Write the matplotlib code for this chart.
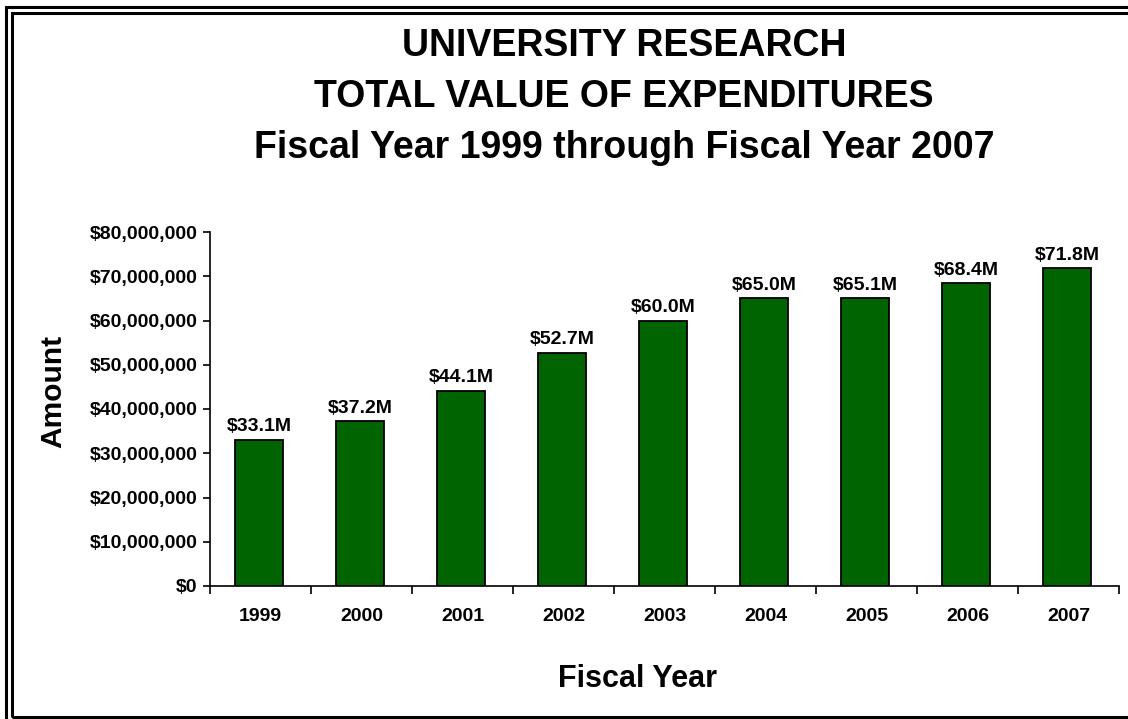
import matplotlib
matplotlib.use("Agg")
import matplotlib.pyplot as plt
from matplotlib.patches import Rectangle
from matplotlib.ticker import FuncFormatter, FixedLocator
import numpy as np

plt.rcParams['font.family'] = ['Liberation Sans', 'DejaVu Sans']
plt.rcParams['font.weight'] = 'bold'

years = ["1999", "2000", "2001", "2002", "2003", "2004", "2005", "2006", "2007"]
expenditures_m = [33.1, 37.2, 44.1, 52.7, 60.0, 65.0, 65.1, 68.4, 71.8]
title_lines = ["UNIVERSITY RESEARCH",
               "TOTAL VALUE OF EXPENDITURES",
               "Fiscal Year 1999 through Fiscal Year 2007"]

W, H = 1128, 719
fig = plt.figure(figsize=(W / 100, H / 100), dpi=100)
fig.patch.set_facecolor("white")

def fx(px):
    return px / W

def fy(py):
    return 1 - py / H

ax = fig.add_axes([fx(210), fy(586), fx(1119) - fx(210), fy(232) - fy(586)])

x = np.arange(len(years))
values = np.array(expenditures_m) * 1e6
ax.bar(x - 0.015, values, width=0.47, color="#006400", edgecolor="black",
       linewidth=1.3, zorder=3)

for xi, v, m in zip(x, values, expenditures_m):
    ax.text(xi - 0.015, v + 1.0e6, f"${m:.1f}M", ha="center", va="bottom",
            fontsize=14, fontweight="bold")

ax.set_xlim(-0.5, len(years) - 0.5)
ax.set_ylim(0, 80e6)
ax.set_yticks(np.arange(0, 80e6 + 1, 10e6))
ax.yaxis.set_major_formatter(FuncFormatter(lambda v, p: f"${v:,.0f}"))
ax.tick_params(axis="y", direction="out", length=5, width=1.2, labelsize=14, pad=4)

ax.set_xticks(x)
ax.set_xticklabels(years)
ax.xaxis.set_minor_locator(FixedLocator(np.arange(-0.5, len(years), 1.0)))
ax.tick_params(axis="x", which="major", length=0, labelsize=14, pad=16)
ax.tick_params(axis="x", which="minor", direction="out", length=6, width=1.2)
for lab in ax.get_xticklabels() + ax.get_yticklabels():
    lab.set_fontweight("bold")

for side in ("top", "right"):
    ax.spines[side].set_visible(False)
ax.spines["left"].set_linewidth(1.2)
ax.spines["bottom"].set_linewidth(1.2)

fig.text(fx(53), fy(391), "Amount", rotation=90, ha="center", va="center",
         fontsize=21.5, fontweight="bold")
fig.text(fx(638), fy(679), "Fiscal Year", ha="center", va="center",
         fontsize=22, fontweight="bold")

for i, line in enumerate(title_lines):
    fig.text(fx(624), fy(46 + 51 * i), line, ha="center", va="center",
             fontsize=27, fontweight="bold")

# double frame around the page
fig.patches.append(Rectangle((fx(6), fy(740)), fx(1200) - fx(6), fy(7) - fy(740),
                             transform=fig.transFigure, fill=False,
                             edgecolor="black", linewidth=2.2))
fig.patches.append(Rectangle((fx(12), fy(717)), fx(1200) - fx(12), fy(13) - fy(717),
                             transform=fig.transFigure, fill=False,
                             edgecolor="black", linewidth=2.2))

fig.savefig("out.png", dpi=100)
